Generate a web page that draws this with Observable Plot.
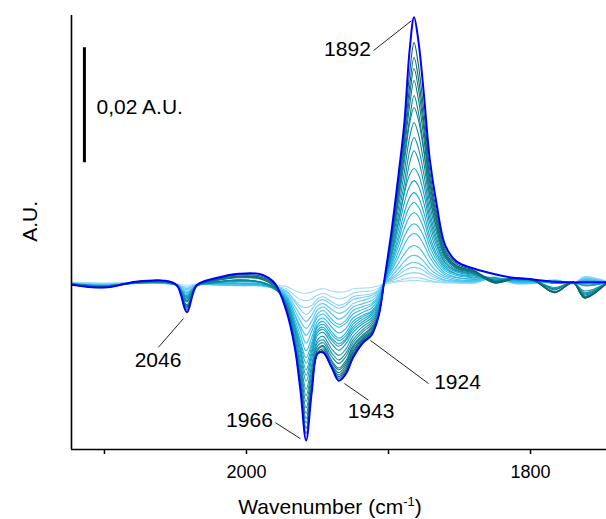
<!DOCTYPE html>
<html><head><meta charset="utf-8">
<script src="https://cdn.jsdelivr.net/npm/d3@7"></script>
<script src="https://cdn.jsdelivr.net/npm/@observablehq/plot@0.6"></script>
<style>body{margin:0;background:#fff;} svg{display:block}</style>
</head><body><div id="chart"></div>
<script>
// wavenumber grid (cm-1)
const wavenumbers = [2123, 2100, 2078, 2058, 2049, 2042, 2035, 2022, 2005, 1990,
  1980, 1972, 1966, 1962, 1958, 1954, 1950, 1946, 1940, 1935,
  1930, 1925, 1918, 1912, 1907, 1903, 1898, 1893, 1889, 1885,
  1882, 1879, 1875, 1871, 1866, 1860, 1852, 1840, 1825, 1812,
  1798, 1783, 1770, 1762, 1746];

// absorbance in mA.U., one array per spectrum (weakest -> strongest)
const scan01 = [0.2, 0.1, 0.2, 0.2, -0.1, -0.3, -0.1, -0.1, -0.2, -0.2,
  -0.3, -0.5, -1.2, -1.6, -1.7, -1.5, -1.1, -0.9, -1.3, -1.5,
  -1.4, -0.9, -0.8, -0.7, -0.4, 0.0, 0.1, 0.3, 0.4, 0.5,
  0.5, 0.5, 0.4, 0.3, 0.2, 0.1, 0.1, 0.0, 1.2, 0.0,
  0.0, 0.7, 0.0, 1.1, 0.4];
const scan02 = [0.2, 0.0, 0.2, 0.2, -0.2, -0.6, -0.2, -0.2, -0.3, -0.3,
  -0.5, -0.9, -2.1, -2.8, -3.0, -2.7, -2.0, -1.7, -2.3, -2.7,
  -2.4, -1.7, -1.4, -1.3, -0.8, 0.0, 0.3, 0.5, 0.8, 1.0,
  1.0, 1.0, 0.8, 0.5, 0.3, 0.2, 0.1, 0.1, 1.1, 0.0,
  0.0, 0.6, 0.0, 1.2, 0.3];
const scan03 = [0.1, -0.1, 0.1, 0.1, -0.2, -0.8, -0.2, -0.2, -0.4, -0.4,
  -0.6, -1.3, -2.9, -3.9, -4.2, -3.8, -2.7, -2.3, -3.2, -3.8,
  -3.4, -2.3, -2.0, -1.8, -1.1, 0.0, 0.5, 1.0, 1.5, 1.8,
  1.9, 1.8, 1.5, 1.0, 0.6, 0.3, 0.2, 0.2, 1.0, 0.1,
  0.1, 0.5, 0.0, 1.0, 0.3];
const scan04 = [0.1, -0.1, 0.1, 0.1, -0.2, -0.9, -0.2, -0.1, -0.2, -0.2,
  -0.5, -1.3, -3.2, -4.5, -5.4, -4.5, -3.2, -2.8, -3.7, -4.3,
  -3.8, -2.8, -2.4, -2.1, -1.3, 0.0, 0.7, 1.5, 2.2, 2.7,
  2.8, 2.7, 2.2, 1.5, 0.9, 0.5, 0.3, 0.2, 1.0, 0.1,
  0.1, 0.5, 0.0, 0.9, 0.3];
const scan05 = [0.0, -0.2, 0.0, 0.0, -0.2, -1.1, -0.2, -0.1, -0.2, -0.3,
  -0.7, -1.6, -3.9, -5.5, -6.6, -5.5, -3.9, -3.5, -4.5, -5.2,
  -4.7, -3.5, -2.9, -2.5, -1.6, 0.0, 0.9, 1.9, 2.9, 3.5,
  3.7, 3.5, 2.9, 1.9, 1.2, 0.6, 0.4, 0.3, 0.9, 0.1,
  0.1, 0.4, 0.0, 0.8, 0.2];
const scan06 = [0.0, -0.3, 0.0, 0.0, -0.3, -1.4, -0.3, -0.2, -0.3, -0.3,
  -0.8, -1.9, -4.6, -6.5, -7.8, -6.5, -4.6, -4.1, -5.3, -6.2,
  -5.5, -4.1, -3.5, -3.0, -1.9, 0.0, 1.2, 2.6, 3.8, 4.7,
  4.9, 4.7, 3.8, 2.6, 1.6, 0.9, 0.5, 0.4, 0.9, 0.2,
  0.1, 0.4, 0.0, 0.7, 0.2];
const scan07 = [0.0, -0.3, 0.0, 0.1, -0.3, -1.6, -0.3, -0.2, -0.3, -0.4,
  -0.9, -2.2, -5.3, -7.5, -9.0, -7.5, -5.3, -4.7, -6.2, -7.1,
  -6.4, -4.7, -4.0, -3.5, -2.2, 0.1, 1.7, 3.5, 5.1, 6.3,
  6.6, 6.3, 5.1, 3.5, 2.1, 1.2, 0.7, 0.5, 0.9, 0.3,
  0.2, 0.4, 0.1, 0.6, 0.2];
const scan08 = [0.0, -0.3, 0.1, 0.1, -0.3, -1.7, -0.3, 0.0, 0.0, -0.2,
  -0.8, -2.2, -5.5, -8.1, -10.4, -8.3, -5.8, -5.3, -6.8, -7.6,
  -6.9, -5.3, -4.5, -3.8, -2.5, 0.1, 2.2, 4.6, 6.7, 8.3,
  8.7, 8.3, 6.7, 4.6, 2.8, 1.5, 1.0, 0.7, 1.0, 0.3,
  0.3, 0.5, 0.1, 0.6, 0.1];
const scan09 = [0.0, -0.4, 0.1, 0.1, -0.3, -1.9, -0.3, 0.0, 0.0, -0.2,
  -0.9, -2.4, -6.2, -9.1, -11.7, -9.4, -6.6, -6.0, -7.6, -8.6,
  -7.8, -6.0, -5.0, -4.3, -2.8, 0.1, 2.6, 5.5, 8.1, 9.9,
  10.4, 9.9, 8.1, 5.5, 3.4, 1.8, 1.1, 0.8, 1.0, 0.4,
  0.3, 0.5, 0.1, 0.5, 0.1];
const scan10 = [0.0, -0.4, 0.1, 0.1, -0.3, -2.1, -0.3, 0.0, 0.1, -0.1,
  -1.0, -2.7, -6.8, -10.1, -12.9, -10.3, -7.2, -6.6, -8.4, -9.5,
  -8.6, -6.6, -5.5, -4.8, -3.1, 0.1, 3.1, 6.5, 9.5, 11.7,
  12.3, 11.7, 9.5, 6.5, 4.0, 2.2, 1.4, 1.0, 0.9, 0.5,
  0.4, 0.3, 0.1, 0.3, 0.1];
const scan11 = [-0.1, -0.4, 0.1, 0.2, -0.3, -2.2, -0.3, 0.1, 0.3, 0.1,
  -1.0, -2.8, -7.1, -10.6, -13.9, -10.9, -7.6, -7.1, -8.9, -9.9,
  -9.1, -7.1, -5.8, -5.0, -3.3, 0.1, 3.5, 7.4, 10.9, 13.4,
  14.1, 13.4, 10.9, 7.4, 4.6, 2.5, 1.6, 1.1, 0.8, 0.6,
  0.4, 0.3, 0.1, 0.1, 0.1];
const scan12 = [-0.1, -0.4, 0.1, 0.2, -0.3, -2.3, -0.3, 0.2, 0.4, 0.2,
  -1.0, -3.0, -7.5, -11.3, -15.0, -11.6, -8.1, -7.6, -9.5, -10.5,
  -9.6, -7.6, -6.2, -5.3, -3.5, 0.2, 4.0, 8.3, 12.2, 15.0,
  15.8, 15.0, 12.2, 8.3, 5.1, 2.8, 1.7, 1.3, 0.8, 0.6,
  0.5, 0.1, 0.2, -0.1, 0.2];
const scan13 = [-0.1, -0.4, 0.1, 0.2, -0.3, -2.4, -0.3, 0.2, 0.5, 0.2,
  -0.9, -3.1, -7.8, -11.8, -16.0, -12.2, -8.5, -8.0, -9.9, -10.9,
  -9.9, -8.0, -6.6, -5.6, -3.8, 0.2, 4.5, 9.4, 13.9, 17.0,
  17.9, 17.0, 13.9, 9.4, 5.8, 3.1, 2.0, 1.4, 0.9, 0.7,
  0.5, 0.1, 0.2, -0.3, 0.2];
const scan14 = [-0.1, -0.4, 0.1, 0.2, -0.3, -2.5, -0.3, 0.2, 0.5, 0.2,
  -0.9, -3.2, -8.1, -12.5, -17.0, -13.0, -9.0, -8.5, -10.5, -11.6,
  -10.5, -8.5, -7.0, -6.0, -4.0, 0.2, 5.0, 10.5, 15.5, 19.0,
  20.0, 19.0, 15.5, 10.5, 6.5, 3.5, 2.2, 1.6, 0.9, 0.8,
  0.6, 0.0, 0.2, -0.4, 0.2];
const scan15 = [-0.1, -0.4, 0.1, 0.2, -0.3, -2.7, -0.3, 0.2, 0.6, 0.2,
  -0.9, -3.3, -8.6, -13.5, -18.4, -14.1, -9.8, -9.2, -11.4, -12.5,
  -11.4, -9.2, -7.5, -6.4, -4.3, 0.2, 5.1, 10.8, 15.8, 21.1,
  23.1, 21.5, 17.2, 11.5, 7.1, 3.6, 2.2, 1.6, 0.5, 0.7,
  0.5, -0.7, 0.2, -1.3, 0.2];
const scan16 = [-0.1, -0.5, 0.1, 0.2, -0.4, -2.9, -0.4, 0.2, 0.6, 0.2,
  -0.9, -3.4, -9.2, -14.3, -19.5, -14.9, -10.3, -9.8, -12.1, -13.3,
  -12.1, -9.8, -8.0, -6.8, -4.6, 0.2, 5.6, 11.9, 17.3, 23.2,
  25.4, 23.6, 18.9, 12.6, 7.8, 4.0, 2.4, 1.7, 0.5, 0.8,
  0.6, -0.9, 0.2, -1.6, 0.2];
const scan17 = [-0.1, -0.5, 0.1, 0.2, -0.4, -3.0, -0.4, 0.2, 0.6, 0.2,
  -0.9, -3.6, -9.6, -15.1, -20.5, -15.7, -10.9, -10.3, -12.7, -13.9,
  -12.7, -10.3, -8.4, -7.2, -4.8, 0.2, 6.2, 13.1, 19.1, 25.6,
  28.0, 26.0, 20.8, 13.9, 8.6, 4.4, 2.7, 1.9, 0.5, 0.9,
  0.6, -1.0, 0.2, -1.8, 0.2];
const scan18 = [-0.1, -0.5, 0.1, 0.3, -0.4, -3.2, -0.4, 0.3, 0.6, 0.3,
  -0.8, -3.8, -10.2, -15.9, -21.6, -16.5, -11.4, -10.8, -13.4, -14.7,
  -13.4, -10.8, -8.9, -7.6, -5.1, 0.2, 6.7, 14.3, 20.9, 28.0,
  30.6, 28.5, 22.7, 15.2, 9.4, 4.8, 2.9, 2.1, 0.6, 0.9,
  0.7, -1.1, 0.2, -2.0, 0.2];
const scan19 = [-0.2, -0.6, 0.2, 0.3, -0.3, -3.7, -0.3, 0.5, 1.0, 0.8,
  -0.6, -3.9, -10.4, -16.6, -22.6, -16.9, -11.6, -11.0, -13.7, -15.0,
  -13.8, -11.0, -9.1, -7.8, -5.3, 0.2, 7.0, 15.0, 22.0, 28.8,
  32.7, 29.8, 23.2, 15.4, 9.5, 4.6, 2.6, 1.8, 0.1, 0.7,
  0.5, -1.4, 0.1, -2.2, 0.1];
const scan20 = [-0.2, -0.6, 0.2, 0.4, -0.4, -3.9, -0.4, 0.5, 1.1, 0.8,
  -0.5, -4.0, -10.6, -17.0, -23.5, -17.4, -12.0, -11.4, -14.1, -15.5,
  -14.2, -11.4, -9.4, -8.1, -5.4, 0.2, 7.3, 15.6, 23.0, 31.1,
  35.3, 32.1, 25.1, 16.6, 10.2, 4.9, 2.8, 2.0, 0.1, 0.8,
  0.5, -1.5, 0.1, -2.3, 0.1];
const scan21 = [-0.2, -0.6, 0.2, 0.4, -0.4, -4.1, -0.4, 0.6, 1.2, 1.0,
  -0.3, -4.2, -10.8, -17.6, -24.3, -17.8, -12.2, -11.7, -14.4, -15.9,
  -14.6, -11.8, -9.6, -8.4, -5.5, 0.3, 7.6, 16.3, 24.0, 32.9,
  37.4, 34.0, 26.6, 17.6, 10.8, 5.2, 3.0, 2.1, 0.1, 0.8,
  0.6, -1.6, 0.1, -2.5, 0.1];
const scan22 = [-0.2, -0.7, 0.2, 0.4, -0.3, -4.3, -0.3, 0.7, 1.3, 1.1,
  -0.2, -4.3, -10.9, -18.1, -25.2, -18.3, -12.3, -11.9, -14.5, -16.2,
  -15.0, -12.1, -9.8, -8.6, -5.6, 0.3, 7.9, 17.0, 25.0, 34.6,
  39.3, 35.8, 27.9, 18.5, 11.4, 5.5, 3.1, 2.2, 0.2, 0.9,
  0.6, -1.6, 0.2, -2.5, 0.2];
const scan23 = [-0.2, -0.7, 0.3, 0.5, -0.3, -4.6, -0.3, 0.8, 1.5, 1.3,
  -0.1, -4.5, -11.0, -18.3, -26.1, -18.5, -12.3, -12.0, -14.6, -16.5,
  -15.3, -12.5, -10.0, -8.8, -5.6, 0.3, 8.3, 17.8, 26.2, 36.9,
  41.9, 38.1, 29.7, 19.7, 12.2, 5.9, 3.4, 2.3, 0.3, 0.9,
  0.6, -1.5, 0.2, -2.5, 0.2];
const scan24 = [-0.2, -0.7, 0.3, 0.5, -0.3, -5.0, -0.3, 0.9, 1.7, 1.6,
  0.0, -4.7, -11.1, -18.6, -27.3, -18.8, -12.2, -12.0, -14.6, -16.9,
  -15.7, -12.9, -10.3, -9.0, -5.7, 0.5, 8.9, 18.8, 27.5, 40.9,
  46.3, 42.3, 32.7, 21.7, 13.6, 6.6, 3.8, 2.6, 1.6, 1.0,
  0.7, 0.3, 0.2, 0.2, 0.2];

const scans = [scan01, scan02, scan03, scan04, scan05, scan06, scan07, scan08,
  scan09, scan10, scan11, scan12, scan13, scan14, scan15, scan16,
  scan17, scan18, scan19, scan20, scan21, scan22, scan23, scan24];

// peak annotations
const peakLabels = ["1892", "2046", "1966", "1943", "1924"];

// tick values / labels
const xTicks = [2100, 2000, 1900, 1800];
const xTickLabels = ["", "2000", "", "1800"];

// ---- styling / layout (not data) ----
const scanColors = ["#a8ddf6", "#98d8f6", "#88d3f6", "#76cef5", "#64c9f4", "#52c5f2",
  "#42c1f0", "#34bdec", "#28b8e7", "#1fb3e0", "#1aaed8", "#17a8cf",
  "#15a2c5", "#149cbc", "#1396b2", "#1290a8", "#118a9f", "#108496",
  "#0f7e8d", "#0e7884", "#0d727b", "#0c6c73", "#0b666b", "#0000ff"];
const labelPosX = [1928.9, 2062.3, 1997.9, 1912.3, 1851.4];
const labelPosY = [40.7, -13.4, -23.7, -22.3, -17.2];
const leaderX1 = [1910.6, 2062.0, 1979.6, 1931.0, 1912.7];
const leaderY1 = [40.5, -11.1, -24.2, -17.4, -9.9];
const leaderX2 = [1883.8, 2044.4, 1962.0, 1914.1, 1871.8];
const leaderY2 = [45.7, -6.1, -27.0, -20.3, -17.4];
const xDomain = [2123.2, 1746.5];
const yDomain = [-28.87, 46.61];
const scaleBar = {x: 2114.1, y1: 21, y2: 41, labelX: 2105.6, labelY: 30.7};
const yLabelPos = {x: 2152.1, y: 10.8};

const font = "'Liberation Sans', Arial, Helvetica, sans-serif";

const marks = [];
scans.forEach((s, i) => {
  const last = i === scans.length - 1;
  marks.push(Plot.line(wavenumbers, {
    x: wavenumbers, y: s, stroke: scanColors[i],
    strokeWidth: last ? 2 : 1.1, curve: "catmull-rom"
  }));
});
marks.push(
  Plot.ruleX([xDomain[0]], {stroke: "#000", strokeWidth: 1.6}),
  Plot.ruleY([yDomain[0]], {stroke: "#000", strokeWidth: 1.6}),
  Plot.axisX({ticks: xTicks, tickFormat: d => xTickLabels[xTicks.indexOf(d)],
    tickSize: 5, tickPadding: 11, fontSize: 18, label: null,
    stroke: "#000", fill: "#000", strokeWidth: 1.5}),
  Plot.ruleX([scaleBar], {x: d => d.x, y1: d => d.y1, y2: d => d.y2,
    stroke: "#000", strokeWidth: 3}),
  Plot.text(["0,02 A.U."], {x: () => scaleBar.labelX, y: () => scaleBar.labelY,
    text: d => d, textAnchor: "start", fontSize: 21, fill: "#000"}),
  Plot.text(["A.U."], {x: () => yLabelPos.x, y: () => yLabelPos.y, text: d => d,
    rotate: -90, fontSize: 21, fill: "#000"}),
  Plot.link(peakLabels, {x1: (d, i) => leaderX1[i], y1: (d, i) => leaderY1[i],
    x2: (d, i) => leaderX2[i], y2: (d, i) => leaderY2[i], stroke: "#222", strokeWidth: 1}),
  Plot.text(peakLabels, {x: (d, i) => labelPosX[i], y: (d, i) => labelPosY[i],
    text: d => d, fontSize: 21, fill: "#000"})
);

const svg = Plot.plot({
  width: 606, height: 519,
  marginLeft: 71, marginRight: 0, marginTop: 15, marginBottom: 70,
  x: {domain: xDomain, axis: null},
  y: {domain: yDomain, axis: null},
  style: {fontFamily: font, background: "#fff", color: "#000", overflow: "visible"},
  marks
});

const t = d3.select(svg).append("text")
  .attr("x", 330).attr("y", 514)
  .attr("text-anchor", "middle")
  .attr("font-family", font)
  .attr("font-size", 21)
  .attr("fill", "#000")
  .text("Wavenumber (cm");
t.append("tspan").attr("dy", -8).attr("font-size", 13).text("-1");
t.append("tspan").attr("dy", 8).text(")");

document.getElementById("chart").appendChild(svg);
</script>
</body></html>
